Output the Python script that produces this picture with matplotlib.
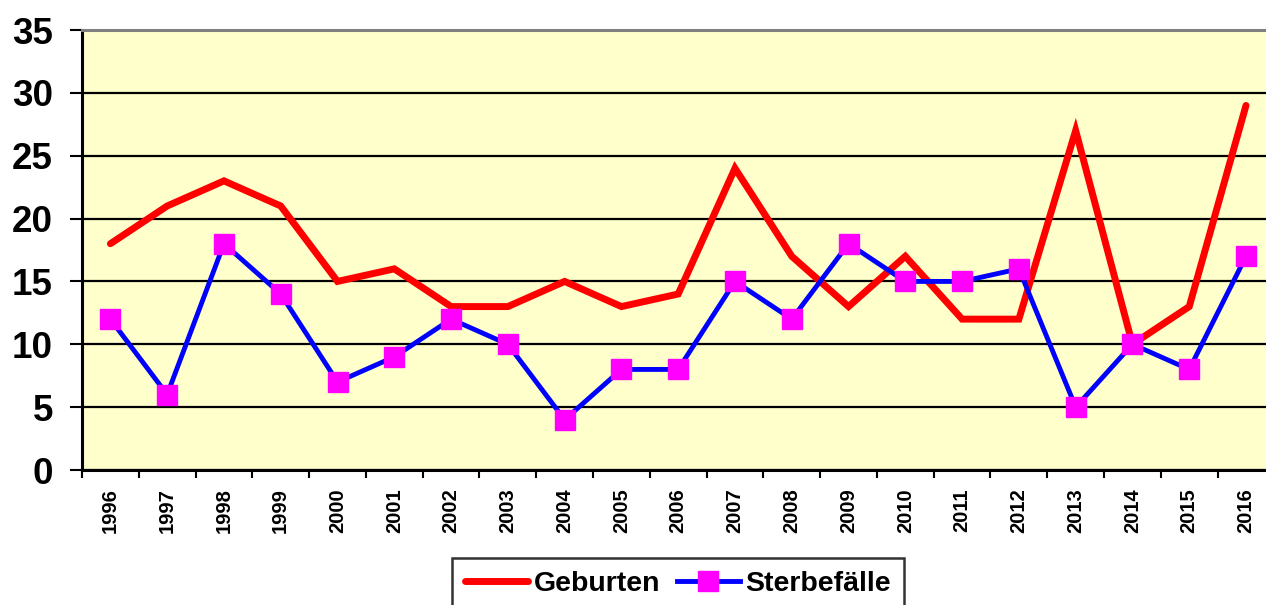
import matplotlib.pyplot as plt
import numpy as np

plt.rcParams['font.family'] = ['Liberation Sans', 'DejaVu Sans']

# data
jahre = [str(j) for j in range(1996, 2017)]
geburten = [18, 21, 23, 21, 15, 16, 13, 13, 15, 13, 14, 24, 17, 13, 17, 12, 12, 27, 10, 13, 29]
sterbefaelle = [12, 6, 18, 14, 7, 9, 12, 10, 4, 8, 8, 15, 12, 18, 15, 15, 16, 5, 10, 8, 17]
y_ticks = [0, 5, 10, 15, 20, 25, 30, 35]

W, H = 1266, 605
fig = plt.figure(figsize=(W / 100, H / 100), dpi=100)
ax = fig.add_axes([82 / W, 1 - 470 / H, 1192.4 / W, 440 / H])
ax.set_facecolor('#FFFFCC')

x = np.arange(len(jahre))
ax.plot(x, geburten, color='#FF0000', lw=5, solid_capstyle='round',
        solid_joinstyle='miter', label='Geburten', zorder=3)
ax.plot(x, sterbefaelle, color='#0000FF', lw=3.5, marker='s', markersize=14.5,
        markerfacecolor='#FF00FF', markeredgecolor='#FF00FF',
        label='Sterbefälle', zorder=4)

ax.set_xlim(-0.5, len(jahre) - 0.5)
ax.set_ylim(0, 35)
ax.set_yticks(y_ticks)
ax.set_yticklabels([str(v) for v in y_ticks], fontsize=26.5, fontweight='bold')
ax.tick_params(axis='y', length=9, width=1.5, pad=12, direction='out')

# ticks between categories, labels at the categories
ax.set_xticks(np.arange(-0.5, len(jahre), 1.0))
ax.set_xticklabels([])
ax.set_xticks(x, minor=True)
ax.set_xticklabels(jahre, minor=True, rotation=90, fontsize=14.5, fontweight='bold')
ax.tick_params(axis='x', which='major', length=6, width=1.5, direction='out')
ax.tick_params(axis='x', which='minor', length=0, pad=13)

ax.grid(axis='y', color='black', lw=1.6, zorder=1)
ax.set_axisbelow(True)

for s in ['left', 'bottom']:
    ax.spines[s].set_linewidth(2.2)
    ax.spines[s].set_color('black')
ax.spines['top'].set_color('#808080')
ax.spines['top'].set_linewidth(2.2)
ax.spines['right'].set_visible(False)

leg = fig.legend(loc='upper center', bbox_to_anchor=(678 / W, 1 - 558 / H),
                 ncol=2, prop={'weight': 'bold', 'size': 20.5},
                 frameon=True, fancybox=False, edgecolor='black',
                 handlelength=2.2, handletextpad=0.2, columnspacing=0.6,
                 borderpad=0.45, borderaxespad=0)
leg.get_frame().set_linewidth(1.8)

fig.savefig('out.png', dpi=100)
